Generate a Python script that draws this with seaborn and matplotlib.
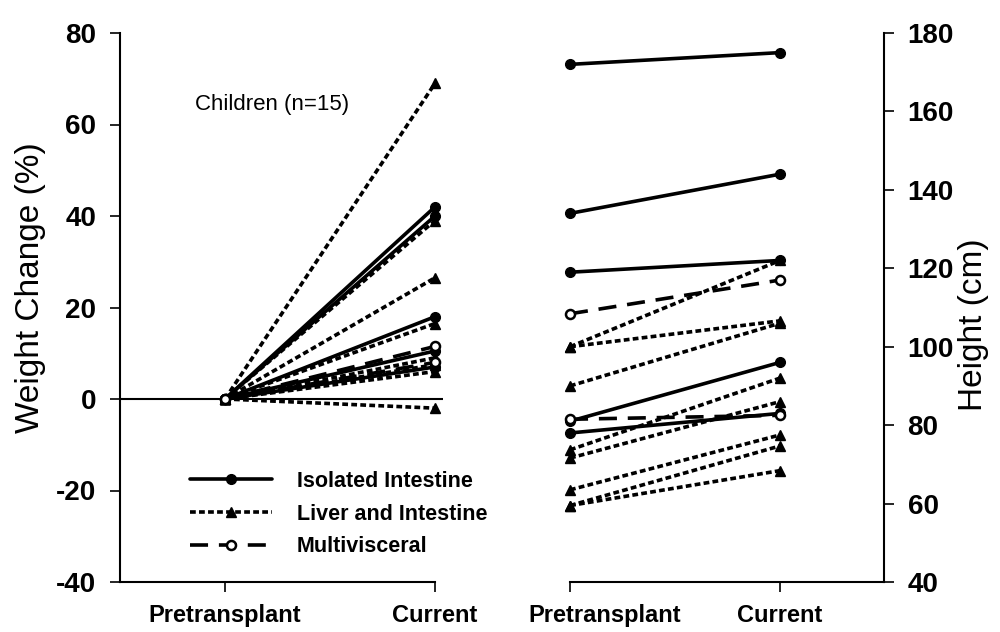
import pandas as pd
import matplotlib
matplotlib.use("Agg")
import matplotlib.pyplot as plt
import matplotlib.transforms as mtransforms
from matplotlib.lines import Line2D
import seaborn as sns

# values
time_labels = ["Pretransplant", "Current"]
groups = ["Isolated Intestine", "Liver and Intestine", "Multivisceral"]

# weight change (%) at current visit; all start at 0 pretransplant
isolated_wt = [42, 40, 18, 10.5, 7]
liver_wt = [69, 39, 26.5, 16.5, 9, 7.5, 6, -2]
multi_wt = [11.5, 8]

# height (cm) pretransplant -> current
isolated_ht_pre = [172, 134, 119, 81, 78]
isolated_ht_cur = [175, 144, 122, 96, 83]
liver_ht_pre = [100, 100, 90, 73.7, 71.6, 63.5, 59.5, 59.5]
liver_ht_cur = [122, 106.6, 106, 92, 86, 77.5, 74.7, 68.4]
multi_ht_pre = [108.4, 81.5]
multi_ht_cur = [117, 82.5]

wt_cur = {groups[0]: isolated_wt, groups[1]: liver_wt, groups[2]: multi_wt}
ht_pre = {groups[0]: isolated_ht_pre, groups[1]: liver_ht_pre, groups[2]: multi_ht_pre}
ht_cur = {groups[0]: isolated_ht_cur, groups[1]: liver_ht_cur, groups[2]: multi_ht_cur}

rows = []
for g in groups:
    for i, v in enumerate(wt_cur[g]):
        rows.append((g, f"{g}-{i}", "weight", 0, 0.0))
        rows.append((g, f"{g}-{i}", "weight", 1, v))
    for i, (a, b) in enumerate(zip(ht_pre[g], ht_cur[g])):
        rows.append((g, f"{g}-{i}", "height", 0, a))
        rows.append((g, f"{g}-{i}", "height", 1, b))
df = pd.DataFrame(rows, columns=["group", "patient", "panel", "time", "value"])

styles = {
    "Isolated Intestine": dict(linestyle="-", marker="o", markerfacecolor="black",
                               markersize=7, markeredgewidth=1),
    "Liver and Intestine": dict(linestyle=(0, (1.6, 0.9)), marker="^", markerfacecolor="black",
                                markersize=7, markeredgewidth=1),
    "Multivisceral": dict(linestyle=(0, (5, 3)), marker="o", markerfacecolor="white",
                          markersize=6.5, markeredgewidth=1.8),
}

sns.set_style("ticks")
plt.rcParams["font.family"] = ["Liberation Sans", "DejaVu Sans"]
plt.rcParams["axes.unicode_minus"] = False
for key in ("text.color", "axes.labelcolor", "xtick.color", "ytick.color"):
    plt.rcParams[key] = "black"

fig = plt.figure(figsize=(10, 6.32), dpi=100)
bottom, height = 50 / 632, 549 / 632
ax1 = fig.add_axes([0.12, bottom, 0.3234, height])
ax2 = fig.add_axes([0.57, bottom, 0.314, height])

lw = 2.6
for g in groups:
    st = styles[g]
    sns.lineplot(data=df[(df.panel == "weight") & (df.group == g)], x="time", y="value",
                 units="patient", estimator=None, color="black", lw=lw,
                 markeredgecolor="black", clip_on=False, legend=False, ax=ax1, **st)
    sns.lineplot(data=df[(df.panel == "height") & (df.group == g)], x="time", y="value",
                 units="patient", estimator=None, color="black", lw=lw,
                 markeredgecolor="black", clip_on=False, legend=False, ax=ax2, **st)

ax1.axhline(0, color="black", lw=1.5, zorder=1)

# left panel axes
ax1.set_xlim(-0.5, 1.04)
ax1.set_ylim(-40, 80)
ax1.set_yticks(range(-40, 81, 20))
ax1.set_xticks([0, 1])
ax1.set_xticklabels(time_labels)
ax1.spines["top"].set_visible(False)
ax1.spines["right"].set_visible(False)
ax1.spines["bottom"].set_bounds(-0.5, 1)
ax1.set_xlabel("")
ax1.set_ylabel("Weight Change (%)", fontsize=24)
ax1.yaxis.set_label_coords(-0.229, 0.537)
ax1.text(0.232, 0.869, "Children (n=15)", transform=ax1.transAxes, fontsize=16,
         va="center")

# right panel axes
ax2.set_xlim(0, 1.495)
ax2.set_ylim(40, 180)
ax2.set_yticks(range(40, 181, 20))
ax2.set_xticks([0, 1])
ax2.set_xticklabels(time_labels)
ax2.spines["top"].set_visible(False)
ax2.spines["left"].set_visible(False)
ax2.yaxis.tick_right()
ax2.yaxis.set_label_position("right")
ax2.set_xlabel("")
ax2.set_ylabel("Height (cm)", fontsize=24)
ax2.yaxis.set_label_coords(1.236, 0.468)

for ax in (ax1, ax2):
    for sp in ax.spines.values():
        sp.set_linewidth(1.5)
        sp.set_color("black")
    ax.tick_params(axis="y", length=7, width=1.2, labelsize=20, pad=10)
    ax.tick_params(axis="x", length=7, width=1.2, labelsize=17, pad=9)
    for lab in ax.get_xticklabels() + ax.get_yticklabels():
        lab.set_fontweight("bold")

# the right-hand "Pretransplant" label sits a little right of its tick
first = ax2.get_xticklabels()[0]
first.set_transform(first.get_transform() +
                    mtransforms.ScaledTranslation(0.35, 0, fig.dpi_scale_trans))

handles = [Line2D([], [], color="black", lw=lw, markeredgecolor="black", **styles[g])
           for g in groups]
ax1.legend(handles, groups, loc="upper left", bbox_to_anchor=(0.19, 1 - 471 / 632),
           bbox_transform=fig.transFigure, frameon=False, borderpad=0,
           borderaxespad=0, handlelength=3.8, handletextpad=1.16,
           labelspacing=0.54, numpoints=1, prop=dict(size=15.5, weight="bold"))

fig.savefig("out.png", dpi=100, facecolor="white")
